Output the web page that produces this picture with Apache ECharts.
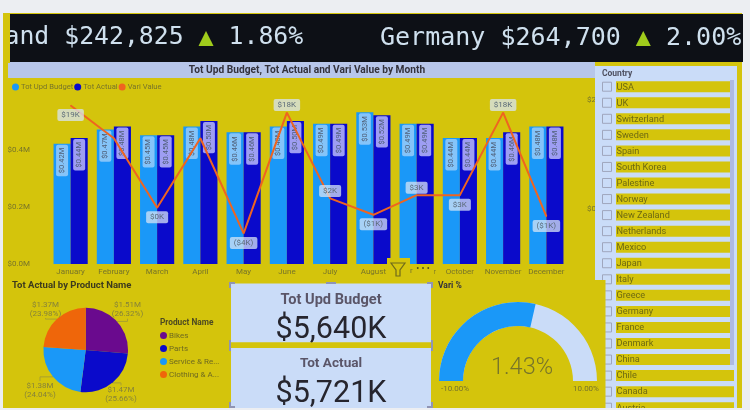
<!DOCTYPE html>
<html>
<head>
<meta charset="utf-8">
<style>
  html, body { margin: 0; padding: 0; background: #eceef2; }
  #main { width: 750px; height: 410px; }
</style>
</head>
<body>
<div id="main"></div>
<script src="https://cdn.jsdelivr.net/npm/echarts@6/dist/echarts.min.js"></script>
<script>
var months = ['January','February','March','April','May','June','July','August','September','October','November','December'];
var totBudget = [0.42,0.47,0.45,0.48,0.46,0.48,0.49,0.53,0.49,0.44,0.44,0.48];
var totActual = [0.44,0.48,0.45,0.50,0.46,0.50,0.49,0.52,0.49,0.44,0.46,0.48];
var variValue = [19,13,0.3,13,-4.4,17.7,2,-1,2.6,2.6,17.7,-1.3];
var leftTicks = [0,0.2,0.4];
var rightTicks = [0,20];

var products = ['Bikes','Parts','Service & Re...','Clothing & A...'];
var productActual = [1.51,1.47,1.38,1.37];
var productPct = [26.32,25.66,24.04,23.98];

var countries = ['USA','UK','Switzerland','Sweden','Spain','South Korea','Palestine','Norway','New Zealand','Netherlands','Mexico','Japan','Italy','Greece','Germany','France','Denmark','China','Chile','Canada','Austria'];
var variPct = 1.43;

var yellow = '#d4c40c', card = '#cadcf8', olive = '#77742a', handle = '#8f94b4';
var uiFont = 'Roboto, "Noto Sans", sans-serif';

// which side of the point each line label sits, null = no label
var labelSide = ['bottom',null,'bottom',null,'bottom','top','top','bottom','top','bottom','top','bottom'];
// where the pie labels sit on the page
var pieLabelAt = [[127.5,309.7],[121,394.5],[40,390],[45.5,309]];

function money(v) {
    var s = '$' + Math.round(Math.abs(v)) + 'K';
    return v < -0.5 ? '(' + s + ')' : s;
}
function barLabel(bg) {
    return {
        show: true, position: 'insideTop', rotate: 90, align: 'right', verticalAlign: 'middle', distance: 1,
        color: '#4f5f78', fontSize: 7.5, fontFamily: uiFont,
        backgroundColor: bg, borderRadius: 2, padding: [2, 3, 2, 3],
        formatter: function (p) { return '$' + p.value.toFixed(2) + 'M'; }
    };
}
function rect(x, y, w, h, fill, z) {
    return { type: 'rect', silent: true, z: z, shape: { x: x, y: y, width: w, height: h }, style: { fill: fill } };
}
function txt(x, y, s, size, fill, z, opts) {
    opts = opts || {};
    return { type: 'text', silent: true, z: z, x: x, y: y, style: {
        text: s, fontSize: size, fill: fill, fontFamily: opts.font || uiFont, fontWeight: opts.weight || 'normal',
        align: opts.align || 'left', verticalAlign: 'middle', rich: opts.rich
    } };
}

var g = [];
// yellow report page and header band
g.push(rect(3, 13, 739, 395, yellow, -1));
g.push(rect(8, 62, 587, 16, '#b7c6ea', 1));
g.push(txt(307, 70.5, 'Tot Upd Budget, Tot Actual and Vari Value by Month', 10.2, '#33323c', 1, { weight: 'bold', align: 'center' }));
g.push(txt(12, 286, 'Tot Actual by Product Name', 9.5, '#3c3a1e', 1, { weight: 'bold' }));
g.push(txt(160, 323, 'Product Name', 8.3, '#4d4a22', 1, { weight: 'bold' }));

// ticker
var mono = '"DejaVu Sans Mono", monospace', tickRich = { g: { fill: '#a0cc1c', fontSize: 25, fontFamily: mono } };
g.push(rect(10, 14, 733, 48, '#0d1016', 150));
g.push(txt(4.5, 38, 'and $242,825 {g|▲} 1.86%', 24.8, '#cfe0ee', 151, { font: mono, rich: tickRich }));
g.push(txt(380, 38, 'Germany $264,700 {g|▲} 2.00%', 25, '#cfe0ee', 151, { font: mono, rich: tickRich }));
g.push(rect(3, 13, 7, 50, yellow, 152));

// slicer
g.push(rect(595, 66, 142, 344, card, 100));
g.push(txt(602, 73.5, 'Country', 8.5, '#4e5060', 101, { weight: 'bold' }));
g.push(rect(730, 80, 4, 285, '#aebae2', 103));
countries.forEach(function (c, i) {
    var y = 86.7 + i * 16.05;
    g.push(rect(616, y - 5.5, 118, 11, yellow, 102));
    g.push({ type: 'rect', silent: true, z: 102, shape: { x: 602.5, y: y - 4.5, width: 9, height: 9 }, style: { fill: 'none', stroke: '#9fa6bd', lineWidth: 1 } });
    g.push(txt(616.5, y + 0.5, c, 9.2, '#6e6a12', 104));
});

// yellow block of the gauge visual over the slicer
g.push(rect(433, 280, 172.5, 130, yellow, 105));
g.push(txt(438, 286, 'Vari %', 8.5, '#33323c', 106, { weight: 'bold' }));
g.push(txt(455, 389, '-10.00%', 8, olive, 106, { align: 'center' }));
g.push(txt(586, 389, '10.00%', 8, olive, 106, { align: 'center' }));

// kpi cards
g.push(rect(228, 280, 205, 130, yellow, 110));
g.push(rect(231, 283.5, 200, 59, card, 111));
g.push(rect(231, 348, 200, 60, card, 111));
g.push(txt(331, 300, 'Tot Upd Budget', 14.6, '#5a5568', 112, { weight: 'bold', align: 'center' }));
g.push(txt(331, 330, '$5,640K', 30.5, '#26252e', 112, { align: 'center' }));
g.push(rect(231, 342.5, 200, 5.5, yellow, 113));
g.push(txt(331, 364, 'Tot Actual', 13.6, '#5a5568', 112, { weight: 'bold', align: 'center' }));
g.push(txt(331, 394, '$5,721K', 30.5, '#26252e', 112, { align: 'center' }));
// selection handles
[[229,282,6,2],[229,282,2,6],[427,282,6,2],[431,282,2,6],[326,282,10,2],[229,340,2,11],[431,340,2,11],[229,402,2,6],[229,406,6,2],[427,406,6,2],[431,402,2,6]].forEach(function (h) {
    g.push(rect(h[0], h[1], h[2], h[3], handle, 114));
});

// filter icon and menu over the axis
g.push(rect(387, 258, 23, 22, yellow, 50));
g.push(rect(410, 264, 24, 16, yellow, 50));
g.push({ type: 'polygon', silent: true, z: 51, shape: { points: [[391,263],[405,263],[400,270],[400,276],[396,276],[396,270]] }, style: { fill: 'none', stroke: '#6f6a1c', lineWidth: 1.2 } });
g.push(txt(410, 271, 'r', 8, olive, 51));
g.push(txt(423, 269, '• • •', 9, '#4e4c1c', 51, { align: 'center' }));

// clean page edge below the report
g.push(rect(0, 408, 750, 2, '#eceef2', 200));

var myChart = echarts.init(document.getElementById('main'));
var option = {
    backgroundColor: '#eceef2',
    animation: false,
    textStyle: { fontFamily: uiFont },
    graphic: { elements: g },
    legend: [
        {
            data: ['Tot Upd Budget','Tot Actual','Vari Value'],
            left: 7, top: 78, itemWidth: 7, itemHeight: 7, itemGap: 1, icon: 'circle',
            textStyle: { color: olive, fontSize: 7.6, padding: [0, 0, 0, -3] }
        },
        {
            data: products,
            orient: 'vertical', left: 155, top: 326.5, itemWidth: 7, itemHeight: 7, itemGap: 5, icon: 'circle',
            textStyle: { color: '#6f6a20', fontSize: 8, padding: [0, 0, 0, -3] }
        }
    ],
    grid: { left: 49, right: 182, top: 98, bottom: 146 },
    xAxis: {
        type: 'category', data: months,
        axisLine: { show: false }, axisTick: { show: false },
        axisLabel: { color: olive, fontSize: 8, interval: 0, margin: 4 }
    },
    yAxis: [
        {
            type: 'value', min: 0, max: 0.58,
            axisLine: { show: false }, axisTick: { show: false }, splitLine: { show: false },
            axisLabel: { customValues: leftTicks, color: olive, fontSize: 8, margin: 19, formatter: function (v) { return '$' + v.toFixed(1) + 'M'; } }
        },
        {
            type: 'value', min: -10, max: 20.37, position: 'right',
            axisLine: { show: false }, axisTick: { show: false }, splitLine: { show: false },
            axisLabel: { customValues: rightTicks, color: olive, fontSize: 8, margin: 19, formatter: function (v) { return '$' + v + 'K'; } }
        }
    ],
    series: [
        { name: 'Tot Upd Budget', type: 'bar', data: totBudget, barGap: 0, barCategoryGap: '21%', itemStyle: { color: '#1a98f8' }, label: barLabel('rgba(205,225,250,0.6)') },
        { name: 'Tot Actual', type: 'bar', data: totActual, itemStyle: { color: '#0a0acb' }, label: barLabel('rgba(185,185,250,0.85)') },
        {
            name: 'Vari Value', type: 'line', yAxisIndex: 1, z: 5,
            symbol: 'circle', symbolSize: 1,
            itemStyle: { color: '#ef6420' }, lineStyle: { color: '#ef6420', width: 2 },
            data: variValue.map(function (v, i) {
                return {
                    value: v,
                    label: {
                        show: labelSide[i] !== null, position: labelSide[i] || 'top', distance: labelSide[i] === 'top' ? 1 : 3,
                        color: '#5a6a78', fontSize: 8, backgroundColor: 'rgba(215,228,245,0.75)', borderRadius: 2, padding: [2, 4],
                        formatter: function () { return money(v); }
                    }
                };
            })
        },
        {
            name: 'Product', type: 'pie', center: [85.7, 350], radius: 42.3, startAngle: 90, clockwise: true,
            data: products.map(function (n, i) { return { name: n, value: productActual[i] }; }),
            color: ['#6a0a8e','#0a0acb','#1a98f8','#ef660a'],
            label: {
                color: '#85823a', fontSize: 8, lineHeight: 9, overflow: 'none',
                formatter: function (p) { return '$' + p.value.toFixed(2) + 'M\n(' + productPct[p.dataIndex].toFixed(2) + '%)'; }
            },
            labelLayout: function (p) {
                return { x: pieLabelAt[p.dataIndex][0], y: pieLabelAt[p.dataIndex][1], align: 'center', verticalAlign: 'middle' };
            },
            labelLine: { length: 6, length2: 6, lineStyle: { color: '#a8a030', width: 1 } }
        },
        {
            type: 'gauge', z: 120, center: [518, 381], radius: 79, startAngle: 180, endAngle: 0, min: -10, max: 10,
            progress: { show: true, width: 24, itemStyle: { color: '#1a98f8' } },
            axisLine: { lineStyle: { width: 24, color: [[1, card]] } },
            pointer: { show: false }, axisTick: { show: false }, splitLine: { show: false }, axisLabel: { show: false },
            title: { show: false },
            detail: { valueAnimation: false, offsetCenter: [4, -13], fontSize: 23.5, fontWeight: 300, color: olive, formatter: '{value}%' },
            data: [{ value: variPct }]
        }
    ]
};
myChart.setOption(option);
</script>
</body>
</html>
